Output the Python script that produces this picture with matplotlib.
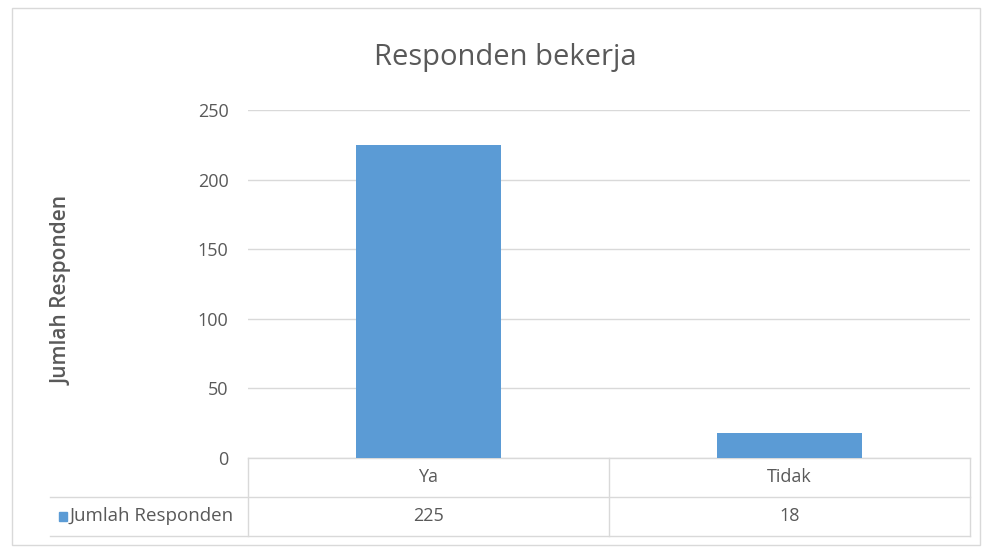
import matplotlib.pyplot as plt
from matplotlib.patches import Rectangle

plt.rcParams['font.family'] = ['Open Sans', 'DejaVu Sans']

# data
categories = ['Ya', 'Tidak']
jumlah = [225, 18]
series_name = 'Jumlah Responden'
y_ticks = [0, 50, 100, 150, 200, 250]

BAR_COLOR = '#5B9BD5'
TEXT_COLOR = '#595959'
GRID_COLOR = '#D9D9D9'

W, H = 987, 548
fig = plt.figure(figsize=(W / 100, H / 100), dpi=100)

# chart border
fig.patches.append(Rectangle((12 / W, 1 - 545 / H), 968 / W, 537 / H,
                             transform=fig.transFigure, fill=False,
                             edgecolor=GRID_COLOR, linewidth=1))

ax = fig.add_axes([248 / W, 1 - 458 / H, 722 / W, 348 / H])
x = range(len(categories))
ax.bar(x, jumlah, width=0.4, color=BAR_COLOR, zorder=3)
ax.set_xlim(-0.5, len(categories) - 0.5)
ax.set_ylim(0, 250)
ax.set_yticks(y_ticks)
ax.set_yticklabels([str(t) for t in y_ticks], color=TEXT_COLOR, fontsize=13)
ax.tick_params(axis='y', length=0, pad=14)
ax.set_xticks([])
ax.grid(axis='y', color=GRID_COLOR, linewidth=1, zorder=0)
for s in ax.spines.values():
    s.set_visible(False)

fig.text(62 / W, 1 - 290 / H, 'Jumlah Responden', rotation=90, ha='center',
         va='center', fontsize=15, fontweight='semibold', color=TEXT_COLOR)

fig.text(505 / W, 1 - 57 / H, 'Responden bekerja', ha='center', va='center',
         fontsize=21, color=TEXT_COLOR)

# data table below the axis
r0, r1, r2 = 0.0, -0.112, -0.224
left = -0.274
lk = dict(transform=ax.transAxes, color=GRID_COLOR, linewidth=1, clip_on=False)
ax.plot([0, 1], [r0, r0], **lk)
ax.plot([left, 1], [r1, r1], **lk)
ax.plot([left, 1], [r2, r2], **lk)
for xv in [0, 0.5, 1]:
    ax.plot([xv, xv], [r0, r2], **lk)

tr = ax.get_xaxis_transform()
for i, (c, v) in enumerate(zip(categories, jumlah)):
    ax.text(i, (r0 + r1) / 2, c, transform=tr, ha='center', va='center',
            fontsize=13, color=TEXT_COLOR)
    ax.text(i, (r1 + r2) / 2, str(v), transform=tr, ha='center', va='center',
            fontsize=13, color=TEXT_COLOR)

ax.add_patch(Rectangle((-0.262, (r1 + r2) / 2 - 0.013), 0.012, 0.026,
                       transform=ax.transAxes, color=BAR_COLOR, clip_on=False))
ax.text(-0.247, (r1 + r2) / 2, series_name, transform=ax.transAxes,
        ha='left', va='center', fontsize=13.5, color=TEXT_COLOR)

fig.savefig('out.png', dpi=100)
